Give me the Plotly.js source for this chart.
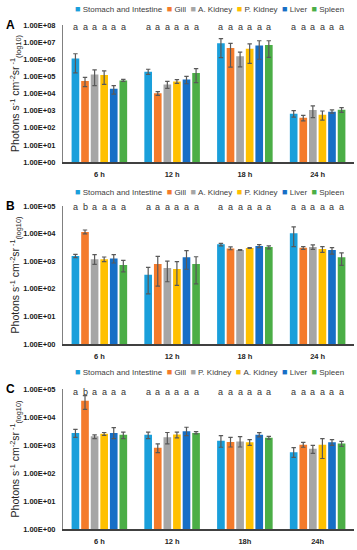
<!DOCTYPE html>
<html>
<head>
<meta charset="utf-8">
<script src="https://cdn.plot.ly/plotly-3.0.1.min.js"></script>
<style>html,body{margin:0;padding:0;background:#fff;}#chart{width:357px;height:550px;}</style>
</head>
<body>
<div id="chart"></div>
<script>
// ---------- data ----------
const timesAB = ['6 h', '12 h', '18 h', '24 h'];
const timesC = ['6 h', '12 h', '18h', '24h'];
const seriesAB = ['Stomach and Intestine', 'Gill', 'A. Kidney', 'P. Kidney', 'Liver', 'Spleen'];
const seriesC = ['Stomach and Intestine', 'Gill', 'P. Kidney', 'A. Kidney', 'Liver', 'Spleen'];
const colors = ['#1A9FDB', '#F47B2B', '#A6A6A6', '#FFC000', '#166FC6', '#4BAE46'];

// Panel A (values, upper and lower ends of error bars)
const aVal = [
  [1.12e6, 1.87e5, 8.5e6, 6.6e2],
  [5.3e4, 1.02e4, 4.5e6, 3.9e2],
  [1.3e5, 3.4e4, 1.5e6, 1.1e3],
  [1.2e5, 5.1e4, 4.1e6, 5.8e2],
  [1.9e4, 6.6e4, 6.4e6, 8.7e2],
  [5.8e4, 1.56e5, 6.7e6, 1.13e3]
];
const aHi = [
  [2.1e6, 2.6e5, 1.6e7, 1.0e3],
  [8.7e4, 1.3e4, 8.5e6, 5.3e2],
  [2.4e5, 5.1e4, 2.6e6, 1.9e3],
  [2.1e5, 6.4e4, 7.8e6, 9.5e2],
  [2.9e4, 1.0e5, 1.2e7, 1.1e3],
  [6.6e4, 2.8e5, 1.2e7, 1.5e3]
];
const aLo = [
  [1.6e5, 1.3e5, 1.23e6, 4.2e2],
  [2.5e4, 7.8e3, 3.5e5, 2.5e2],
  [2.9e4, 2.0e4, 3.6e5, 3.9e2],
  [3.4e4, 3.9e4, 5.8e5, 2.8e2],
  [9.3e3, 3.7e4, 1.0e6, 7.2e2],
  [5.1e4, 4.3e4, 1.3e6, 7.9e2]
];
// Panel B
const bVal = [
  [1.55e3, 3.2e2, 4.1e3, 1.02e4],
  [1.15e4, 7.9e2, 2.9e3, 3.1e3],
  [1.17e3, 5.7e2, 2.55e3, 3.25e3],
  [1.17e3, 5.2e2, 3.0e3, 2.76e3],
  [1.26e3, 1.38e3, 3.55e3, 2.55e3],
  [7.3e2, 7.9e2, 3.25e3, 1.38e3]
];
const bHi = [
  [1.78e3, 6.0e2, 4.4e3, 1.74e4],
  [1.35e4, 1.5e3, 3.3e3, 3.4e3],
  [1.73e3, 1.0e3, 2.65e3, 3.9e3],
  [1.42e3, 9.6e2, 3.1e3, 3.4e3],
  [1.73e3, 2.4e3, 4.0e3, 3.1e3],
  [1.07e3, 1.45e3, 3.6e3, 2.0e3]
];
const bLo = [
  [1.35e3, 6.5e1, 3.6e3, 3.4e3],
  [9.7e3, 1.26e2, 2.6e3, 2.7e3],
  [7.7e2, 1.8e2, 2.45e3, 2.7e3],
  [9.6e2, 1.34e2, 2.9e3, 2.1e3],
  [8.6e2, 5.1e2, 3.1e3, 1.8e3],
  [4.1e2, 1.5e2, 2.8e3, 7.1e2]
];
// Panel C
const cVal = [
  [2.7e3, 2.3e3, 1.42e3, 5.5e2],
  [3.8e4, 8.0e2, 1.28e3, 1.03e3],
  [2.04e3, 1.88e3, 1.32e3, 7.4e2],
  [2.5e3, 2.35e3, 1.25e3, 1.03e3],
  [2.7e3, 3.1e3, 2.3e3, 1.25e3],
  [2.3e3, 2.7e3, 1.83e3, 1.12e3]
];
const cHi = [
  [3.6e3, 2.9e3, 2.15e3, 8.0e2],
  [5.8e4, 1.1e3, 1.88e3, 1.25e3],
  [2.3e3, 2.8e3, 2.0e3, 9.7e2],
  [2.8e3, 2.9e3, 1.55e3, 1.7e3],
  [4.2e3, 4.3e3, 2.75e3, 1.55e3],
  [2.9e3, 3.0e3, 2.04e3, 1.35e3]
];
const cLo = [
  [1.88e3, 1.7e3, 8.3e2, 3.6e2],
  [1.87e4, 5.3e2, 8.5e2, 8.3e2],
  [1.7e3, 1.1e3, 8.5e2, 5.0e2],
  [2.2e3, 1.8e3, 9.7e2, 3.3e2],
  [1.7e3, 2.15e3, 1.94e3, 9.7e2],
  [1.7e3, 2.5e3, 1.63e3, 9.0e2]
];
// significance letters [series][time]
const aLetters = [['a','a','a','a'],['a','a','a','a'],['a','a','a','a'],['a','a','a','a'],['a','a','a','a'],['a','a','a','a']];
const bLetters = [['a','a','a','a'],['b','a','a','a'],['a','a','a','a'],['a','a','a','a'],['a','a','a','a'],['a','a','a','a']];
const cLetters = [['a','a','a','a'],['b','a','a','a'],['a','a','a','a'],['a','a','a','a'],['a','a','a','a'],['a','a','a','a']];

const tickLabelsA = ['1.00E+00','1.00E+01','1.00E+02','1.00E+03','1.00E+04','1.00E+05','1.00E+06','1.00E+07','1.00E+08'];
const tickLabelsBC = ['1.00E+00','1.00E+01','1.00E+02','1.00E+03','1.00E+04','1.00E+05'];

// ---------- build ----------
const W = 357, H = 550;
const BARGAP = 0.21, GROUPGAP = 0.2;
const xDom = [63 / W, 354 / W];
const panels = [
  {id: '', times: timesAB, names: seriesAB, val: aVal, hi: aHi, lo: aLo, letters: aLetters, ticks: tickLabelsA, top: 25, bottom: 162, legY: 9, label: 'A', letterShift: -2},
  {id: '2', times: timesAB, names: seriesAB, val: bVal, hi: bHi, lo: bLo, letters: bLetters, ticks: tickLabelsBC, top: 206, bottom: 344, legY: 192, label: 'B', letterShift: -1},
  {id: '3', times: timesC, names: seriesC, val: cVal, hi: cHi, lo: cLo, letters: cLetters, ticks: tickLabelsBC, top: 389, bottom: 529, legY: 372, label: 'C', letterShift: -3}
];

const traces = [];
const layout = {
  width: W, height: H,
  margin: {l: 0, r: 0, t: 0, b: 0},
  paper_bgcolor: '#fff', plot_bgcolor: '#fff',
  barmode: 'group', bargap: BARGAP, bargroupgap: GROUPGAP,
  showlegend: false,
  font: {family: 'Liberation Sans, Arial, sans-serif', color: '#262626'},
  annotations: []
};

const catPx = (xDom[1] - xDom[0]) * W / 4;
const pitch = catPx * (1 - BARGAP) / 6;

panels.forEach(p => {
  const xa = 'x' + p.id, ya = 'y' + p.id;
  const nDec = p.ticks.length - 1;
  p.names.forEach((name, i) => {
    traces.push({
      type: 'bar', name: name, x: p.times, y: p.val[i],
      xaxis: xa, yaxis: ya,
      marker: {color: colors[i], line: {width: 0}},
      error_y: {
        type: 'data', symmetric: false,
        array: p.hi[i].map((h, k) => h - p.val[i][k]),
        arrayminus: p.val[i].map((v, k) => v - p.lo[i][k]),
        color: '#595959', thickness: 1.2, width: 2.2
      },
      hoverinfo: 'x+y+name'
    });
    p.times.forEach((t, k) => {
      layout.annotations.push({
        xref: xa, yref: ya, x: t, y: nDec, xshift: (i - 2.5) * pitch, yshift: p.letterShift,
        text: p.letters[i][k], showarrow: false, yanchor: 'middle',
        font: {size: 9, color: '#333'}
      });
    });
  });
  const xKey = 'xaxis' + p.id, yKey = 'yaxis' + p.id;
  layout[xKey] = {
    domain: xDom, anchor: ya, type: 'category',
    showline: true, linecolor: '#404040', linewidth: 1.5,
    ticks: '', showgrid: false, zeroline: false,
    tickfont: {size: 7.5, weight: 'bold', color: '#262626'},
    ticklabelstandoff: 4
  };
  layout[yKey] = {
    domain: [1 - p.bottom / H, 1 - p.top / H], anchor: xa, type: 'log',
    range: [0, nDec],
    tickvals: p.ticks.map((_, k) => Math.pow(10, k)), ticktext: p.ticks,
    showline: true, linecolor: '#808080', linewidth: 1,
    ticks: '', showgrid: false, zeroline: false,
    tickfont: {size: 7.5, weight: 'bold', color: '#1a1a1a'},
    ticklabelstandoff: 5,
    title: {
      text: 'Photons s<sup>-1</sup> cm<sup>-2</sup>sr<sup> -1</sup><sub>(log10)</sub>',
      font: {size: 10.5, color: '#262626'}, standoff: 0
    }
  };
  // legend line (text with coloured squares)
  const legText = p.names.map((n, i) =>
    '<span style="color:' + colors[i] + ';font-size:9px">■</span>\u00a0' + n).join('\u00a0\u00a0');
  layout.annotations.push({
    xref: 'paper', yref: 'paper', x: 209 / W, y: 1 - p.legY / H,
    xanchor: 'center', yanchor: 'middle', showarrow: false,
    text: legText, font: {size: 8, color: '#404040'}
  });
  layout.annotations.push({
    xref: 'paper', yref: 'paper', x: 10 / W, y: 1 - p.top / H,
    xanchor: 'center', yanchor: 'middle', showarrow: false,
    text: '<b>' + p.label + '</b>', font: {size: 12, color: '#000'}
  });
});

Plotly.newPlot('chart', traces, layout, {displayModeBar: false, staticPlot: true});
</script>
</body>
</html>
